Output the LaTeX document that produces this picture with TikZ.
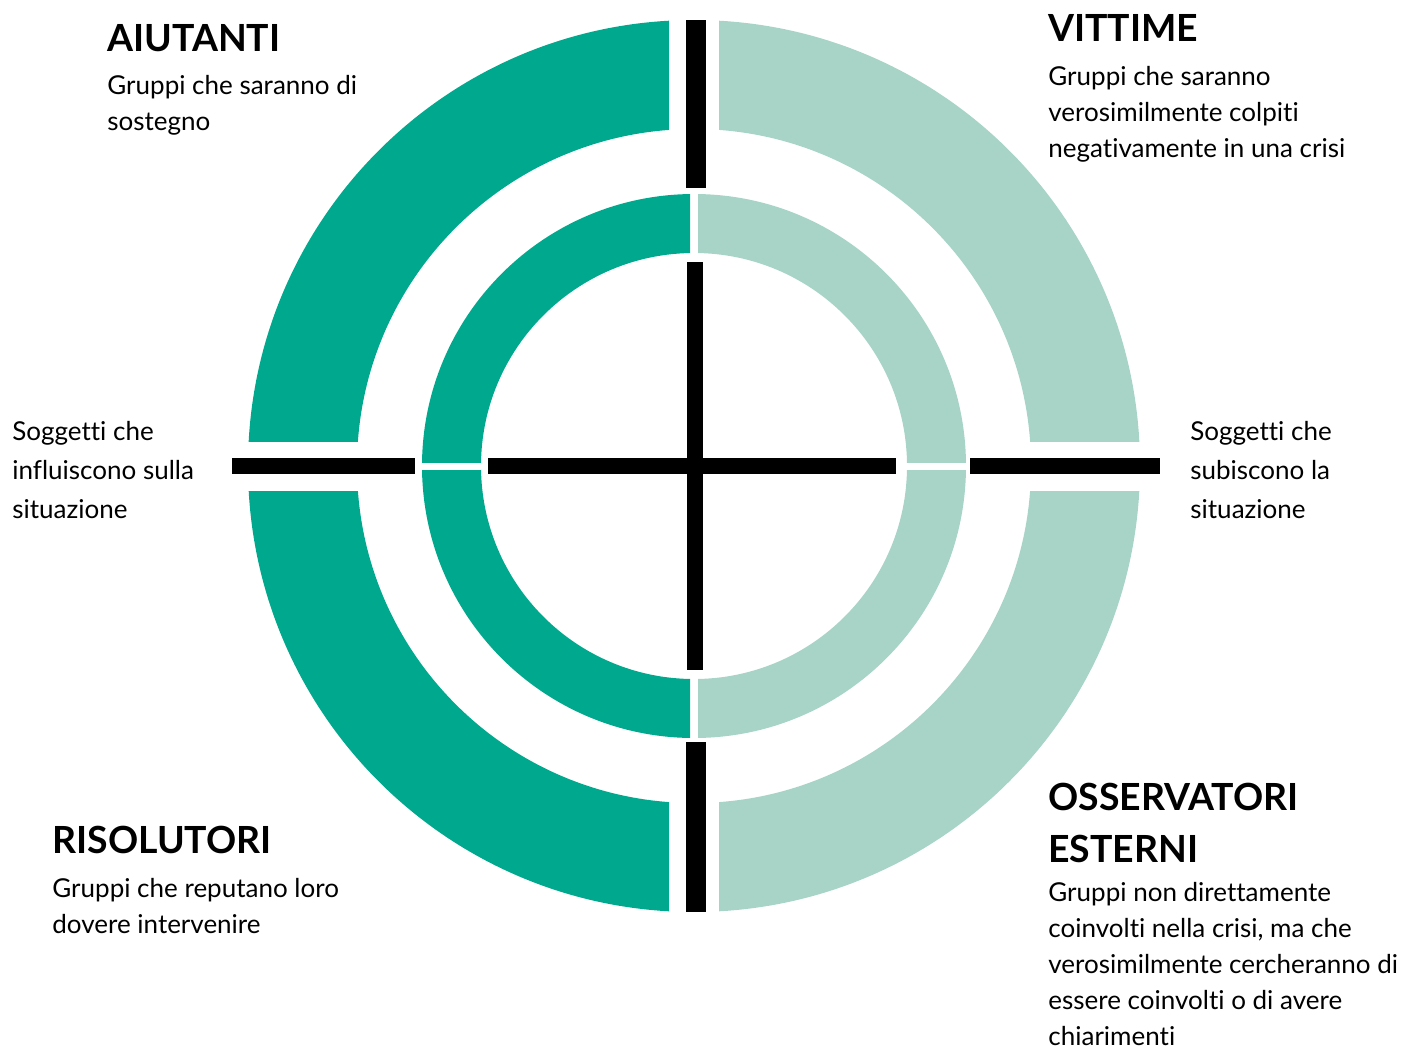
\documentclass[tikz,border=0pt]{standalone}
\usepackage{fontspec}
\setmainfont[Ligatures={NoCommon}]{Lato}
\definecolor{tealdark}{RGB}{0,169,142}
\definecolor{teallight}{RGB}{167,212,199}
\tikzset{
  head/.style={anchor=north west, inner sep=0pt, align=left, font=\fontsize{18.7}{26}\selectfont\bfseries},
  body/.style={anchor=north west, inner sep=0pt, align=left, font=\fontsize{13}{18}\selectfont},
  side/.style={anchor=north west, inner sep=0pt, align=left, font=\fontsize{13}{19.5}\selectfont},
  bar/.style={line width=8pt},
  post/.style={line width=10pt}
}
\begin{document}
\begin{tikzpicture}[x=0.5pt, y=-0.5pt]
\useasboundingbox (0,0) rectangle (1424,1045);
\coordinate (c) at (694,466);
% two rings, cut into quarters
\foreach \sx/\sy/\col in {-1/-1/tealdark, 1/-1/teallight, -1/1/tealdark, 1/1/teallight} {
  \begin{scope}
    \clip ([shift={(\sx*25,\sy*25)}]c) rectangle ([shift={(\sx*500,\sy*500)}]c);
    \fill[\col, even odd rule] (c) circle[radius=446] (c) circle[radius=337];
  \end{scope}
  \begin{scope}
    \clip ([shift={(\sx*4,\sy*4)}]c) rectangle ([shift={(\sx*300,\sy*300)}]c);
    \fill[\col, even odd rule] (c) circle[radius=272] (c) circle[radius=213];
  \end{scope}
}
% black bars
\draw[post] (696,20) -- (696,188);
\draw[post] (696,742) -- (696,912);
\draw[bar] (695,262) -- (695,670);
\draw[bar] (488,466) -- (896,466);
\draw[bar] (232,466) -- (415,466);
\draw[bar] (970,466) -- (1160,466);
% labels
\node[head] (aiutanti) at (107,24) {AIUTANTI};
\node[body] (aiutantitxt) at (107,75) {Gruppi che saranno di\\sostegno};
\node[head] (vittime) at (1048,14) {VITTIME};
\node[body] (vittimetxt) at (1048,66) {Gruppi che saranno\\verosimilmente colpiti\\negativamente in una crisi};
\node[head] (risolutori) at (52,826) {RISOLUTORI};
\node[body] (risolutoritxt) at (52,878) {Gruppi che reputano loro\\dovere intervenire};
\node[head] (osservatori) at (1048,783) {OSSERVATORI\\ESTERNI};
\node[body] (osservatoritxt) at (1048,882) {Gruppi non direttamente\\coinvolti nella crisi, ma che\\verosimilmente cercheranno di\\essere coinvolti o di avere\\chiarimenti};
\node[side] (influiscono) at (12,421) {Soggetti che\\influiscono sulla\\situazione};
\node[side] (subiscono) at (1190,421) {Soggetti che\\subiscono la\\situazione};
\end{tikzpicture}
\end{document}
